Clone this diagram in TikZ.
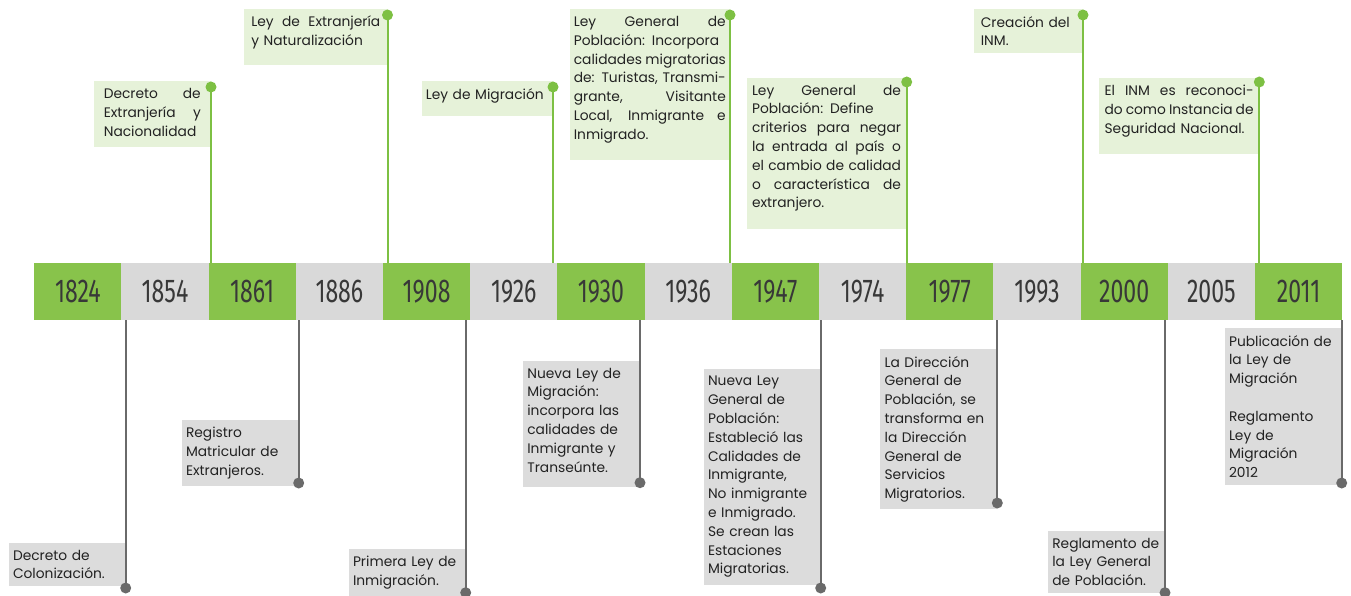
\documentclass[tikz,border=0pt]{standalone}
\usepackage{fontspec}
\usepackage{graphicx}
\setmainfont{Poppins}
\newfontfamily\yearfont{Fira Sans}
\definecolor{bandgreen}{HTML}{88C34B}
\definecolor{bandgray}{HTML}{D9D9D9}
\definecolor{notegreen}{HTML}{E6F2D9}
\definecolor{notegray}{HTML}{DCDCDC}
\definecolor{stemgreen}{HTML}{7DC043}
\definecolor{stemgray}{HTML}{6A6A6A}
\definecolor{ink}{HTML}{222222}
% justified line, and extra space under a note
\newcommand\jl[1]{\makebox[\hsize][s]{\spaceskip=0.2em plus 1fil\relax #1}}
\newcommand\pad[1]{\par\nointerlineskip\vspace{#1}\hbox{}}
\newcommand\yr[1]{\scalebox{0.7}[1]{#1}}
\tikzset{
	cell/.style = {
		rectangle,
		inner sep=0pt,
		minimum width=87.2pt,
		minimum height=57pt,
		anchor=north west,
		text=ink!90,
		font=\yearfont\fontsize{33}{33}\selectfont
	},
	cell_g/.style = {
		cell,
		fill=bandgreen
	},
	cell_w/.style = {
		cell,
		fill=bandgray
	},
	note/.style = {
		rectangle,
		anchor=north east,
		align=left,
		inner ysep=7pt,
		text=ink,
		font=\fontsize{13.8}{18.8}\selectfont
	},
	note_up/.style = {
		note,
		fill=notegreen
	},
	note_down/.style = {
		note,
		fill=notegray,
		inner xsep=4.5pt,
		text width=108pt
	},
	stem_g/.style = {
		draw=stemgreen,
		line width=2pt
	},
	stem_w/.style = {
		draw=stemgray,
		line width=2pt
	},
}

\begin{document}
\begin{tikzpicture}[x=1pt, y=-1pt]
\useasboundingbox (0,0) rectangle (1351,596);
% band of years
\foreach \y [count=\i from 0] in {1824,1861,1908,1930,1947,1977,2000,2011}
	\node [cell_g] (y\y) at ({34+174.4*\i},263) {\yr{\y}};
\foreach \y [count=\i from 0] in {1854,1886,1926,1936,1974,1993,2005}
	\node [cell_w] (y\y) at ({121.2+174.4*\i},263) {\yr{\y}};

% notes above
\node [note_up, inner xsep=10pt, text width=97pt] (n1861) at (211,81) {
	\jl{Decreto de}\\ \jl{Extranjería y}\\ Nacionalidad\pad{4pt}};
\node [note_up, inner xsep=7pt, text width=129pt] (n1908) at (387.5,9) {
	\jl{Ley de Extranjería}\\ y Naturalización\pad{9pt}};
\node [note_up, inner xsep=4pt, text width=123pt] (n1930) at (553,81) {
	Ley de Migración\pad{6pt}};
\node [note_up, inner xsep=4pt, text width=152pt] (n1947) at (730,9) {
	\jl{Ley General de}\\ \jl{Población: Incorpora}\\ \jl{calidades migratorias}\\
	\jl{de: Turistas, Transmi-}\\ \jl{grante, Visitante}\\ \jl{Local, Inmigrante e}\\ Inmigrado.\pad{10pt}};
\node [note_up, inner xsep=5.5pt, text width=149pt] (n1977) at (906.7,77.7) {
	\jl{Ley General de}\\ \jl{Población: Define}\\ \jl{criterios para negar}\\
	\jl{la entrada al país o}\\ \jl{el cambio de calidad}\\ \jl{o característica de}\\ extranjero.\pad{10pt}};
\node [note_up, inner xsep=7pt, text width=95pt] (n2000) at (1083,9) {
	Creación del\\ INM.};
\node [note_up, inner xsep=5.5pt, text width=149pt] (n2011) at (1259.3,77.7) {
	\jl{El INM es reconoci-}\\ \jl{do como Instancia de}\\ Seguridad Nacional.\pad{10pt}};

% notes below
\node [note_down] (m1824) at (125.7,542.7) {Decreto de\\ Colonización.};
\node [note_down] (m1861) at (298.7,420) {Registro\\ Matricular de\\ Extranjeros.};
\node [note_down] (m1908) at (465.7,549) {Primera Ley de\\ Inmigración.};
\node [note_down] (m1930) at (640,360.7) {Nueva Ley de\\ Migración:\\ incorpora las\\
	calidades de\\ Inmigrante y\\ Transeúnte.\pad{8pt}};
\node [note_down] (m1947) at (820.7,369) {Nueva Ley\\ General de\\ Población:\\ Estableció las\\
	Calidades de\\ Inmigrante,\\ No inmigrante\\ e Inmigrado.\\ Se crean las\\ Estaciones\\ Migratorias.};
\node [note_down] (m1977) at (997.3,349) {La Dirección\\ General de\\ Población, se\\ transforma en\\
	la Dirección\\ General de\\ Servicios\\ Migratorios.};
\node [note_down] (m2000) at (1165,530.7) {Reglamento de\\ la Ley General\\ de Población.};
\node [note_down] (m2011) at (1341.7,328) {Publicación de\\ la Ley de\\ Migración\\[18.8pt]
	Reglamento\\ Ley de\\ Migración\\ 2012};

% stems and dots
\foreach \y/\x/\d in {1861/211/87, 1908/387.5/15, 1930/553/87, 1947/730/15,
		1977/906.7/82, 2000/1083/15, 2011/1259.3/82} {
	\coordinate (t\y) at (\x,\d);
	\draw [stem_g] (t\y) -- (t\y |- y\y.north);
	\fill [stemgreen] (t\y) circle (5.5pt);
}
\foreach \y/\x/\d in {1824/125.7/588, 1861/298.7/483, 1908/465.7/592.7, 1930/640/482.7,
		1947/820.7/588, 1977/997.3/503, 2000/1165/592.7, 2011/1341.7/483} {
	\coordinate (b\y) at (\x,\d);
	\draw [stem_w] (b\y) -- (b\y |- y\y.south);
	\fill [stemgray] (b\y) circle (5.5pt);
}
\end{tikzpicture}
\end{document}
